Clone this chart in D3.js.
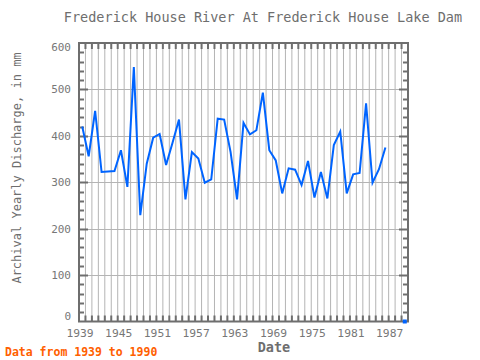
<!DOCTYPE html>
<html><head><meta charset="utf-8">
<script src="https://cdn.jsdelivr.net/npm/d3@7"></script>
<style>body{margin:0;background:#fff}svg{display:block}</style>
</head><body><svg id="c" width="480" height="360"></svg>
<script>
const title = "Frederick House River At Frederick House Lake Dam";
const yAxisTitle = "Archival Yearly Discharge, in mm";
const xAxisTitle = "Date";
const note = "Data from 1939 to 1990";
const years = [1939,1940,1941,1942,1943,1944,1945,1946,1947,1948,1949,1950,1951,1952,1953,1954,1955,1956,1957,1958,1959,1960,1961,1962,1963,1964,1965,1966,1967,1968,1969,1970,1971,1972,1973,1974,1975,1976,1977,1978,1979,1980,1981,1982,1983,1984,1985,1986];
const discharge = [420,356,454,322,323,324,369,290,548,229,340,396,404,337,385,435,263,365,351,299,306,437,435,365,263,428,403,412,493,369,347,276,330,327,294,346,267,322,265,380,409,276,317,320,470,299,328,375];
const loneYears = [1989];
const loneValues = [0];
const yTickValues = [0,100,200,300,400,500,600];
const xTickLabels = [1939,1945,1951,1957,1963,1969,1975,1981,1987];

const svg = d3.select("#c");
const L = 79, R = 408, T = 43, B = 321.5;
const x = d3.scaleLinear().domain([1939, 1990]).range([L, R]);
const y = d3.scaleLinear().domain([0, 600]).range([B, T]);
const font = "'DejaVu Sans Mono', monospace";
const frameCol = "#6e6e6e", gridCol = "#b4b4b4", textCol = "#777";

// vertical gridlines each year
const gridYears = d3.range(1940, 1990);
svg.append("g").selectAll("line").data(gridYears).join("line")
  .attr("x1", d => x(d)).attr("x2", d => x(d)).attr("y1", T).attr("y2", B)
  .attr("stroke", gridCol).attr("stroke-width", 1);
// horizontal gridlines
svg.append("g").selectAll("line").data(yTickValues.filter(v => v > 0 && v < 600)).join("line")
  .attr("x1", L).attr("x2", R).attr("y1", d => Math.round(y(d)) + 0.5).attr("y2", d => Math.round(y(d)) + 0.5)
  .attr("stroke", gridCol).attr("stroke-width", 1);

// x ticks top & bottom
const tg = svg.append("g").attr("stroke", frameCol).attr("stroke-width", 2);
tg.selectAll(".tb").data(gridYears).join("line")
  .attr("x1", d => x(d)).attr("x2", d => x(d)).attr("y1", B).attr("y2", B - 6);
tg.selectAll(".tt").data(gridYears).join("line")
  .attr("x1", d => x(d)).attr("x2", d => x(d)).attr("y1", T).attr("y2", T + 6);
// y ticks minor every 20, major every 100
const yMinor = d3.range(20, 600, 20);
tg.selectAll(".yl").data(yMinor).join("line")
  .attr("x1", L).attr("x2", d => L + (d % 100 === 0 ? 9 : 5))
  .attr("y1", d => Math.round(y(d)) + 0.5).attr("y2", d => Math.round(y(d)) + 0.5);
tg.selectAll(".yr").data(yMinor).join("line")
  .attr("x1", R).attr("x2", d => R - (d % 100 === 0 ? 9 : 5))
  .attr("y1", d => Math.round(y(d)) + 0.5).attr("y2", d => Math.round(y(d)) + 0.5);

// frame
svg.append("rect").attr("x", L).attr("y", T).attr("width", R - L).attr("height", B - T)
  .attr("fill", "none").attr("stroke", frameCol).attr("stroke-width", 2);

// data line
const pts = years.map((yr, i) => [yr, discharge[i]]);
svg.append("path").datum(pts)
  .attr("fill", "none").attr("stroke", "#0064ff").attr("stroke-width", 2)
  .attr("stroke-linejoin", "miter")
  .attr("d", d3.line().x(d => x(d[0] + 0.5)).y(d => y(d[1])));
svg.append("g").selectAll("rect").data(loneYears.map((yr, i) => [yr, loneValues[i]])).join("rect")
  .attr("x", d => x(d[0] + 0.5) - 2).attr("y", d => y(d[1]) - 2).attr("width", 4).attr("height", 4)
  .attr("fill", "#0064ff");

// y tick labels
svg.append("g").selectAll("text").data(yTickValues).join("text")
  .attr("x", 71).attr("y", d => Math.min(Math.max(y(d), T + 4), B - 5))
  .attr("dy", "0.35em").attr("text-anchor", "end")
  .attr("font-family", font).attr("font-size", 11).attr("fill", textCol)
  .text(d => d);
// x tick labels
svg.append("g").selectAll("text").data(xTickLabels).join("text")
  .attr("x", d => x(d) + 1).attr("y", 337).attr("text-anchor", "middle")
  .attr("font-family", font).attr("font-size", 11.3).attr("fill", textCol)
  .text(d => d);

// titles
svg.append("text").attr("x", 263).attr("y", 22).attr("text-anchor", "middle")
  .attr("font-family", font).attr("font-size", 13.5).attr("fill", "#6e6e6e").text(title);
svg.append("text").attr("transform", "translate(21,168) rotate(-90)").attr("text-anchor", "middle")
  .attr("font-family", font).attr("font-size", 12).attr("fill", "#6e6e6e").text(yAxisTitle);
svg.append("text").attr("x", 274).attr("y", 352).attr("text-anchor", "middle")
  .attr("font-family", font).attr("font-size", 13.5).attr("font-weight", "bold").attr("fill", "#6e6e6e").text(xAxisTitle);
svg.append("text").attr("x", 5).attr("y", 356)
  .attr("font-family", font).attr("font-size", 11.5).attr("font-weight", "bold").attr("fill", "#ff6000").text(note);
</script>
</body></html>
